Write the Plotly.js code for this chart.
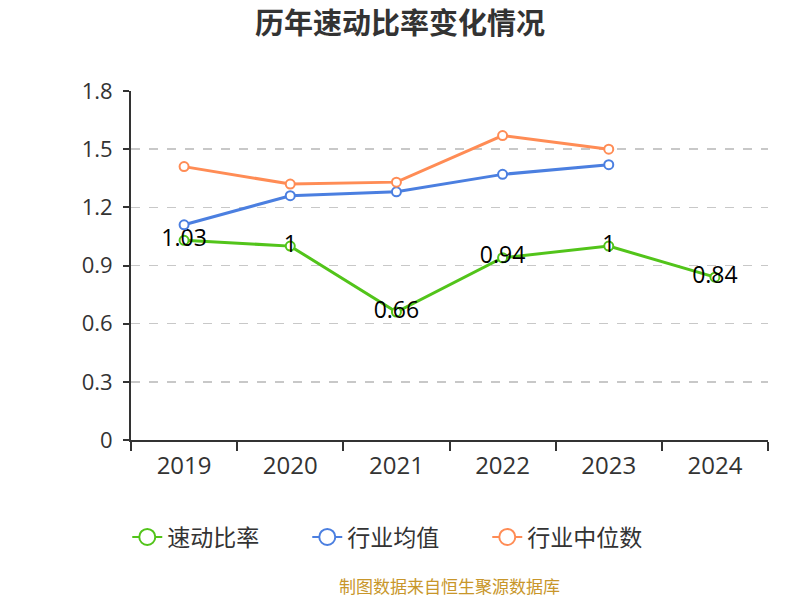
<!DOCTYPE html>
<html>
<head>
<meta charset="utf-8">
<script src="https://cdn.plot.ly/plotly-3.0.1.min.js"></script>
<style>html,body{margin:0;padding:0;background:#fff;}#chart{width:800px;height:600px;}</style>
</head>
<body>
<div id="chart"></div>
<script>
var years = ['2019', '2020', '2021', '2022', '2023', '2024'];
var quickRatio = [1.03, 1, 0.66, 0.94, 1, 0.84];
var quickRatioLabels = ['1.03', '1', '0.66', '0.94', '1', '0.84'];
var industryAvg = [1.11, 1.26, 1.28, 1.37, 1.42];
var industryMedian = [1.41, 1.32, 1.33, 1.57, 1.5];
var seriesNames = ['速动比率', '行业均值', '行业中位数'];
var seriesColors = ['#52c41a', '#4b7fe0', '#ff8c55'];
var yTicks = [0, 0.3, 0.6, 0.9, 1.2, 1.5, 1.8];

var font = 'Open Sans, Noto Sans CJK SC, sans-serif';
function mk(color, size) {
  return {size: size, color: '#ffffff', line: {color: color, width: 2}};
}
var traces = [
  {x: years, y: quickRatio, name: seriesNames[0], type: 'scatter', mode: 'lines+markers+text', showlegend: false,
   text: quickRatioLabels, textposition: 'middle center', textfont: {size: 23, color: '#000', family: font},
   line: {color: seriesColors[0], width: 3}, marker: mk(seriesColors[0], 9), cliponaxis: false},
  {x: years.slice(0, industryAvg.length), y: industryAvg, name: seriesNames[1], type: 'scatter', mode: 'lines+markers', showlegend: false,
   line: {color: seriesColors[1], width: 3}, marker: mk(seriesColors[1], 9), cliponaxis: false},
  {x: years.slice(0, industryMedian.length), y: industryMedian, name: seriesNames[2], type: 'scatter', mode: 'lines+markers', showlegend: false,
   line: {color: seriesColors[2], width: 3}, marker: mk(seriesColors[2], 9), cliponaxis: false}
];
// legend-only entries with larger symbols
seriesNames.forEach(function (n, i) {
  traces.push({x: [years[0]], y: [null], name: n, type: 'scatter', mode: 'lines+markers',
    line: {color: seriesColors[i], width: 2}, marker: mk(seriesColors[i], 16), hoverinfo: 'skip'});
});
var layout = {
  width: 800, height: 600,
  margin: {l: 131, r: 32, t: 91, b: 160},
  paper_bgcolor: '#fff', plot_bgcolor: '#fff',
  font: {family: font, color: '#333'},
  title: {text: '<b>历年速动比率变化情况</b>', x: 0.5, xanchor: 'center', y: 0.96, yanchor: 'middle',
          font: {size: 29, color: '#333', family: font}},
  xaxis: {type: 'category', range: [-0.5, 5.5], tickson: 'boundaries', ticks: 'outside', ticklen: 9,
          tickcolor: '#333', tickwidth: 2, showline: true, linecolor: '#333', linewidth: 2,
          showgrid: false, zeroline: false, tickfont: {size: 24, color: '#333', family: font},
          ticklabelstandoff: 3, fixedrange: true},
  yaxis: {range: [0, 1.8], tickvals: yTicks, ticktext: yTicks.map(String), ticks: 'outside', ticklen: 6,
          tickcolor: '#333', tickwidth: 2, showline: true, linecolor: '#333', linewidth: 2,
          showgrid: true, gridcolor: '#c8c8c8', griddash: 'dash', gridwidth: 1.5, zeroline: false,
          ticklabelstandoff: 6, tickfont: {size: 22, color: '#333', family: font}},
  showlegend: true,
  legend: {orientation: 'h', x: 0.418, xanchor: 'center', y: -0.278, yanchor: 'middle', entrywidth: 135,
           font: {size: 23, color: '#333', family: font}},
  annotations: [{text: '制图数据来自恒生聚源数据库', xref: 'paper', yref: 'paper', x: 0.5, xanchor: 'center',
                 y: -0.42, yanchor: 'middle', showarrow: false, font: {size: 17, color: '#c8962a', family: font}}]
};
Plotly.newPlot('chart', traces, layout, {displayModeBar: false, staticPlot: true});
</script>
</body>
</html>
